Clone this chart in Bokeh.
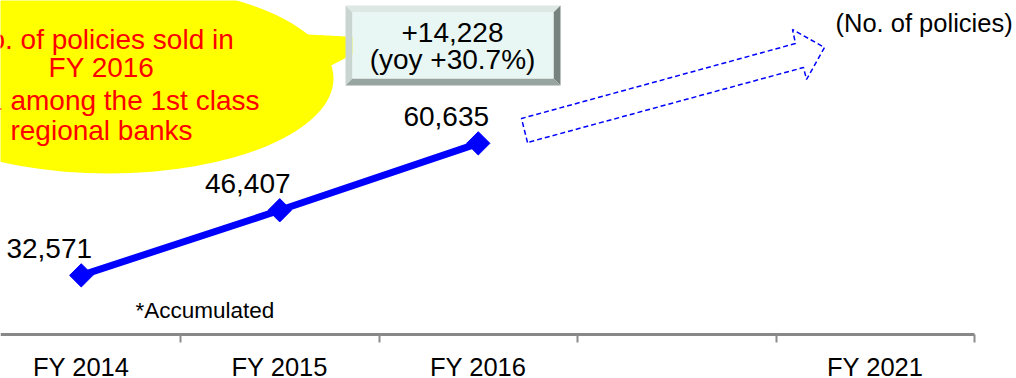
import numpy as np
from bokeh.plotting import figure
from bokeh.models import Range1d, FixedTicker
from bokeh.core.properties import value
from bokeh.embed import file_html
from bokeh.resources import INLINE

# Fiscal-year categories along the bottom axis (one unlabeled gap before FY 2021)
categories = ["FY 2014", "FY 2015", "FY 2016", "", "FY 2021"]
# Accumulated number of policies sold
years_plotted = ["FY 2014", "FY 2015", "FY 2016"]
policies = [32571, 46407, 60635]

callout_lines = ["No. of policies sold in", "FY 2016", "No.1 among the 1st class", "regional banks"]
unit_note = "(No. of policies)"
footnote = "*Accumulated"

W, H = 1016, 378
AXIS_PX = 334            # pixel row of the category axis line
CAT_W = 198.5            # pixel width of one category slot
X0 = 0.5 - 80.75 / CAT_W
X1 = X0 + W / CAT_W
Y_BASE, Y_MAX = 20000, 91000
Y_PER_PX = (Y_MAX - Y_BASE) / AXIS_PX
Y_LOW = Y_MAX - H * Y_PER_PX
FONT = value("Liberation Sans")


def sx(px):
    """Horizontal canvas pixel -> data x."""
    return X0 + px / CAT_W


def sy(py):
    """Vertical canvas pixel (from top) -> data y."""
    return Y_MAX - py * Y_PER_PX


def base(py, size):
    """Data y for a text baseline at canvas row py (glyph text sits slightly low)."""
    return sy(py - 0.29 * size)


centres = [i + 0.5 for i in range(len(categories))]
bounds = [float(i) for i in range(1, len(categories) + 1)]
xs = [centres[categories.index(c)] for c in years_plotted]

p = figure(width=W, height=H, output_backend="svg", toolbar_location=None,
           x_range=Range1d(X0, X1), y_range=Range1d(Y_LOW, Y_MAX),
           y_axis_location=None, min_border=0)
p.outline_line_color = None
p.xgrid.visible = False
p.ygrid.visible = False
p.background_fill_color = "white"
p.border_fill_color = "white"

# x axis pinned at the base value: labels at slot centres,
# tick marks on slot boundaries
ax = p.xaxis[0]
ax.fixed_location = Y_BASE
ax.ticker = FixedTicker(ticks=centres, minor_ticks=bounds)
ax.major_label_overrides = {c: lab for c, lab in zip(centres, categories)}
ax.bounds = (X0, bounds[-1])
ax.axis_line_color = "#888888"
ax.axis_line_width = 3
ax.major_tick_out = 0
ax.major_tick_in = 0
ax.major_tick_line_color = None
ax.minor_tick_out = 8
ax.minor_tick_in = 0
ax.minor_tick_line_color = "#8c8c8c"
ax.minor_tick_line_width = 2
ax.major_label_standoff = 10
ax.major_label_text_font = "Liberation Sans"
ax.major_label_text_font_size = "25.5px"
ax.major_label_text_color = "black"

# yellow speech-bubble callout
p.ellipse(x=[sx(108)], y=[sy(78)], width=450 / CAT_W, height=190 * Y_PER_PX,
          fill_color="#ffff00", line_color=None)
p.patch(x=[sx(270), sx(383), sx(315)], y=[sy(32), sy(38), sy(73)],
        fill_color="#ffff00", line_color=None)
p.text(x=[sx(101)] * 4, y=[base(47, 28), base(75, 28), base(108, 28), base(138, 28)],
       text=callout_lines, text_font=FONT, text_font_size="28px", text_color="#ff0000",
       text_align="center", text_baseline="alphabetic")

# bevelled button with the year-on-year change
bx0, bx1, by0, by1, bv = 345, 560, 5, 85, 7
p.patch(x=[sx(bx0), sx(bx1), sx(bx1 - bv), sx(bx0 + bv)],
        y=[sy(by0), sy(by0), sy(by0 + bv), sy(by0 + bv)],
        fill_color="#dde7e4", line_color=None)
p.patch(x=[sx(bx0), sx(bx0 + bv), sx(bx0 + bv), sx(bx0)],
        y=[sy(by0), sy(by0 + bv), sy(by1 - bv), sy(by1)],
        fill_color="#c9d5d1", line_color=None)
p.patch(x=[sx(bx1), sx(bx1), sx(bx1 - bv), sx(bx1 - bv)],
        y=[sy(by0), sy(by1), sy(by1 - bv), sy(by0 + bv)],
        fill_color="#76837f", line_color=None)
p.patch(x=[sx(bx0), sx(bx1), sx(bx1 - bv), sx(bx0 + bv)],
        y=[sy(by1), sy(by1), sy(by1 - bv), sy(by1 - bv)],
        fill_color="#97a4a0", line_color=None)
p.quad(left=[sx(bx0 + bv)], right=[sx(bx1 - bv)], top=[sy(by0 + bv)], bottom=[sy(by1 - bv)],
       fill_color="#e8f7f3", line_color=None)

diff = policies[-1] - policies[-2]
pct = diff / policies[-2] * 100
p.text(x=[sx(452)] * 2, y=[base(40, 28), base(67, 28)],
       text=[f"+{diff:,}", f"(yoy +{pct:.1f}%)"],
       text_font=FONT, text_font_size="28px", text_color="black",
       text_align="center", text_baseline="alphabetic")

# dashed outline arrow pointing to the FY 2021 target
arrow_px = [(527, 142), (521, 118), (795, 43), (792, 29), (824, 47), (806, 79), (803, 67)]
p.patch(x=[sx(a) for a, _ in arrow_px], y=[sy(b) for _, b in arrow_px],
        fill_color=None, line_color="#0000ff", line_width=1.5, line_dash="5 3")

# accumulated policies line with diamond markers
p.line(xs, policies, line_color="#0000ff", line_width=7)
p.scatter(xs, policies, marker="square", angle=np.pi / 4, size=16.5,
          fill_color="#0000ff", line_color="#0000ff")
p.text(xs, policies, text=[f"{v:,}" for v in policies],
       x_offset=-32, y_offset=-19 - 0.29 * 28, text_font=FONT, text_font_size="28px",
       text_color="black", text_align="center", text_baseline="alphabetic")

p.text(x=[sx(835)], y=[base(30, 25.5)], text=[unit_note], text_font=FONT,
       text_font_size="25.5px", text_color="black", text_align="left",
       text_baseline="alphabetic")
p.text(x=[sx(135)], y=[base(317, 22.5)], text=[footnote], text_font=FONT,
       text_font_size="22.5px", text_color="black", text_align="left",
       text_baseline="alphabetic")

open("out.html", "w").write(file_html(p, INLINE))
